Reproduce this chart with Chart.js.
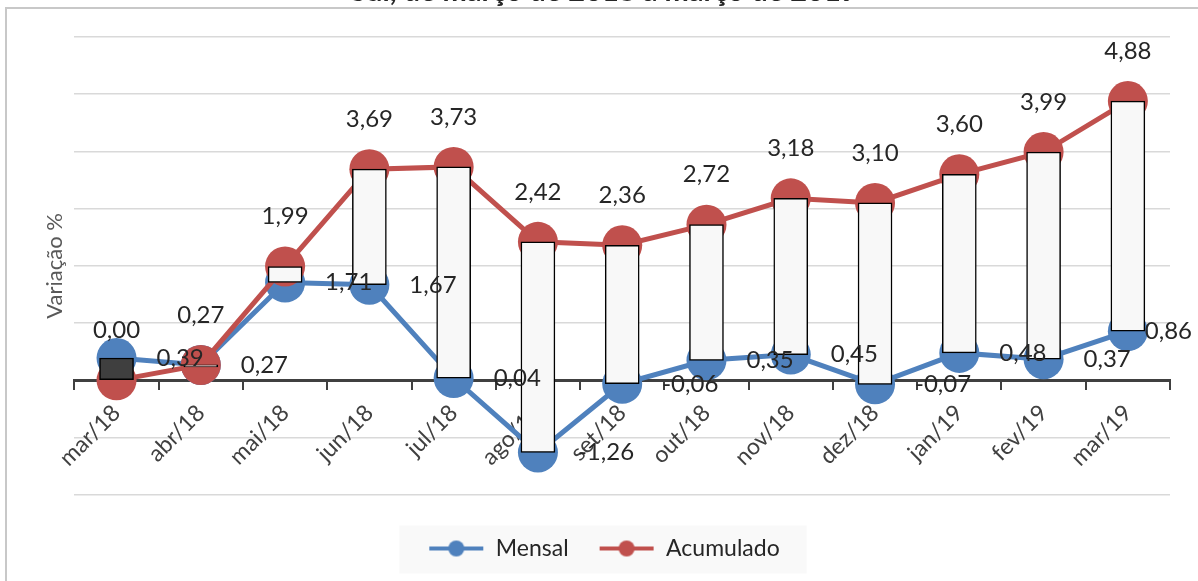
<!DOCTYPE html>
<html lang="pt">
<head>
<meta charset="utf-8">
<title>Variação % - Mensal e Acumulado</title>
<script src="https://cdn.jsdelivr.net/npm/chart.js@4.4.1/dist/chart.umd.min.js"></script>
<style>
  html, body { margin: 0; padding: 0; background: #fff; }
  #wrap { position: relative; width: 1198px; height: 581px; overflow: hidden; }
  #frame { position: absolute; left: 5px; top: 7px; width: 1300px; height: 700px;
           border: 2px solid #c8c8c8; box-sizing: border-box; }
  #grafico { position: absolute; left: 0; top: 0; }
</style>
</head>
<body>
<div id="wrap">
  <div id="frame"></div>
  <canvas id="grafico" width="1198" height="581"></canvas>
</div>
<script>
// dados
const meses = ['mar/18', 'abr/18', 'mai/18', 'jun/18', 'jul/18', 'ago/18', 'set/18',
               'out/18', 'nov/18', 'dez/18', 'jan/19', 'fev/19', 'mar/19'];
const mensal = [0.39, 0.27, 1.71, 1.67, 0.04, -1.26, -0.06, 0.35, 0.45, -0.07, 0.48, 0.37, 0.86];
const acumulado = [0.00, 0.27, 1.99, 3.69, 3.73, 2.42, 2.36, 2.72, 3.18, 3.10, 3.60, 3.99, 4.88];
const tituloTexto = 'Sul, de março de 2018 a março de 2019';
const eixoYMin = -2;
const eixoYMax = 6;
const eixoYPasso = 1;

const AZUL = '#4f81bd';
const VERMELHO = '#c0504d';
const FONTE = 'Lato, "Open Sans", sans-serif';

const fmt = v => v.toFixed(2).replace('.', ',');

// barras de alta/baixa entre as duas séries (como no Excel)
const barrasAltaBaixa = mensal.map((m, i) => [m, acumulado[i]]);
const corBarras = mensal.map((m, i) => acumulado[i] >= m ? '#f8f8f8' : '#3f3f3f');

// ícone da legenda: linha com marcador
function iconeLegenda(cor) {
    const c = document.createElement('canvas');
    c.width = 56; c.height = 20;
    const g = c.getContext('2d');
    g.strokeStyle = cor;
    g.lineWidth = 4;
    g.beginPath(); g.moveTo(1, 10); g.lineTo(55, 10); g.stroke();
    g.fillStyle = cor;
    g.beginPath(); g.arc(28, 10, 8, 0, Math.PI * 2); g.fill();
    return c;
}
const icones = { 1: iconeLegenda(AZUL), 2: iconeLegenda(VERMELHO) };

// rótulos de dados
const rotulosPlugin = {
    id: 'rotulos',
    afterDatasetsDraw(chart) {
        const ctx = chart.ctx;
        ctx.save();
        ctx.font = '24px ' + FONTE;
        ctx.fillStyle = '#262626';
        ctx.textBaseline = 'middle';
        chart.getDatasetMeta(1).data.forEach((pt, i) => {
            const txt = fmt(mensal[i]);
            const w = ctx.measureText(txt).width;
            let x = pt.x + 40;
            if (x + w > chart.width - 6) x = chart.width - 6 - w;
            ctx.textAlign = 'left';
            ctx.fillText(txt, x, pt.y);
        });
        chart.getDatasetMeta(2).data.forEach((pt, i) => {
            ctx.textAlign = 'center';
            ctx.fillText(fmt(acumulado[i]), pt.x, pt.y - 50);
        });
        ctx.restore();
    }
};

// título (cortado no topo da imagem original)
const tituloPlugin = {
    id: 'tituloCortado',
    afterDraw(chart) {
        const ctx = chart.ctx;
        ctx.save();
        ctx.font = 'bold 29px ' + FONTE;
        ctx.fillStyle = '#262626';
        ctx.textAlign = 'center';
        ctx.textBaseline = 'alphabetic';
        ctx.fillText(tituloTexto, 604, 1);
        ctx.restore();
    }
};

// fundo cinza claro da legenda
const fundoLegendaPlugin = {
    id: 'fundoLegenda',
    beforeDraw(chart) {
        const hb = chart.legend && chart.legend.legendHitBoxes;
        if (!hb || !hb.length) return;
        const first = hb[0], last = hb[hb.length - 1];
        const ctx = chart.ctx;
        ctx.save();
        ctx.fillStyle = '#f9f9f9';
        const x0 = first.left - 29, x1 = last.left + last.width + 27;
        const yc = first.top + first.height / 2;
        ctx.fillRect(x0, yc - 23, x1 - x0, 48);
        ctx.restore();
    }
};

new Chart(document.getElementById('grafico'), {
    type: 'line',
    data: {
        labels: meses,
        datasets: [
            {
                type: 'bar',
                label: 'Alta/Baixa',
                data: barrasAltaBaixa,
                backgroundColor: corBarras,
                borderColor: '#000000',
                borderWidth: 1.5,
                borderSkipped: false,
                barThickness: 34,
                minBarLength: 2,
                order: 0
            },
            {
                label: 'Mensal',
                data: mensal,
                borderColor: AZUL,
                backgroundColor: AZUL,
                borderWidth: 5,
                pointRadius: 20,
                pointBorderWidth: 0,
                pointBackgroundColor: AZUL,
                tension: 0,
                clip: false,
                order: 2
            },
            {
                label: 'Acumulado',
                data: acumulado,
                borderColor: VERMELHO,
                backgroundColor: VERMELHO,
                borderWidth: 5,
                pointRadius: 20,
                pointBorderWidth: 0,
                pointBackgroundColor: VERMELHO,
                tension: 0,
                clip: false,
                order: 1
            }
        ]
    },
    options: {
        responsive: false,
        devicePixelRatio: 1,
        animation: false,
        events: [],
        layout: { padding: { left: 38, right: 28, top: 37, bottom: 11 } },
        scales: {
            x: {
                position: { y: 0 },
                offset: true,
                grid: {
                    offset: true,
                    drawOnChartArea: false,
                    drawTicks: true,
                    tickLength: 8,
                    color: '#404040',
                    lineWidth: 2
                },
                border: { color: '#404040', width: 3 },
                ticks: {
                    color: '#404040',
                    font: { family: FONTE, size: 23 },
                    minRotation: 45,
                    maxRotation: 45,
                    autoSkip: false,
                    padding: 11
                }
            },
            y: {
                min: eixoYMin,
                max: eixoYMax,
                ticks: { display: false, stepSize: eixoYPasso },
                grid: { color: '#d9d9d9', lineWidth: 1.5, drawTicks: false },
                border: { display: false },
                title: {
                    display: true,
                    text: 'Variação %',
                    color: '#595959',
                    font: { family: FONTE, size: 22 },
                    padding: { top: 4, bottom: 6 }
                }
            }
        },
        plugins: {
            title: { display: false },
            tooltip: { enabled: false },
            legend: {
                position: 'bottom',
                title: { display: true, text: ' ', font: { size: 1 }, padding: { top: 11, bottom: 0 } },
                labels: {
                    usePointStyle: true,
                    pointStyleWidth: 56,
                    padding: 30,
                    color: '#262626',
                    font: { family: FONTE, size: 23 },
                    filter: item => item.datasetIndex !== 0,
                    sort: (a, b) => a.datasetIndex - b.datasetIndex,
                    generateLabels(chart) {
                        const itens = Chart.defaults.plugins.legend.labels.generateLabels(chart);
                        itens.forEach(it => { if (icones[it.datasetIndex]) it.pointStyle = icones[it.datasetIndex]; });
                        return itens;
                    }
                }
            }
        }
    },
    plugins: [fundoLegendaPlugin, rotulosPlugin, tituloPlugin]
});
</script>
</body>
</html>
